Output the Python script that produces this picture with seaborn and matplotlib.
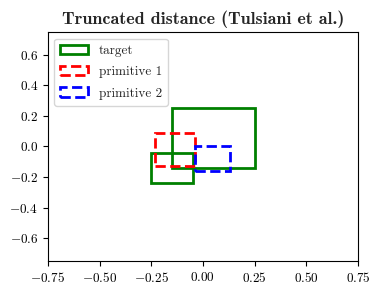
import matplotlib
matplotlib.use("Agg")
import matplotlib.pyplot as plt
import matplotlib.patches as mpatches
import seaborn as sns

# Data: rectangles as (x0, y0, width, height)
labels = ["target", "primitive 1", "primitive 2"]
target_x0 = [-0.15, -0.25]
target_y0 = [-0.14, -0.24]
target_w = [0.40, 0.20]
target_h = [0.39, 0.20]
prim1 = [-0.23, -0.13, 0.19, 0.22]
prim2 = [-0.04, -0.16, 0.17, 0.16]
tick_vals = [-0.75, -0.5, -0.25, 0.0, 0.25, 0.5, 0.75]
ytick_vals = [-0.6, -0.4, -0.2, 0.0, 0.2, 0.4, 0.6]

sns.set_style("ticks")
plt.rcParams["font.family"] = ["cmr10"]
plt.rcParams["mathtext.fontset"] = "cm"
plt.rcParams["axes.formatter.use_mathtext"] = True
plt.rcParams["font.size"] = 10

fig, ax = plt.subplots(figsize=(3.8, 2.95), dpi=100)
fig.subplots_adjust(left=0.126, right=0.942, top=0.8915, bottom=0.1153)

handles = []
for i, (x0, y0, w, h) in enumerate(zip(target_x0, target_y0, target_w, target_h)):
    p = mpatches.Rectangle((x0, y0), w, h, fill=False, edgecolor="green", lw=2,
                           label=labels[0] if i == 0 else None)
    ax.add_patch(p)
    if i == 0:
        handles.append(p)
p1 = mpatches.Rectangle((prim1[0], prim1[1]), prim1[2], prim1[3], fill=False,
                        edgecolor="red", lw=2, ls="--", label=labels[1])
p2 = mpatches.Rectangle((prim2[0], prim2[1]), prim2[2], prim2[3], fill=False,
                        edgecolor="blue", lw=2, ls="--", label=labels[2])
ax.add_patch(p1)
ax.add_patch(p2)
handles += [p1, p2]

ax.set_xlim(-0.75, 0.75)
ax.set_ylim(-0.75, 0.75)
ax.set_xticks(tick_vals)
ax.set_yticks(ytick_vals)
for s in ax.spines.values():
    s.set_visible(True)
    s.set_color("black")
ax.tick_params(colors="black", labelsize=9.5)
ax.legend(handles=handles, loc="upper left", fontsize=9.5, labelspacing=0.7,
          borderpad=0.45, handlelength=2.1)
ax.set_title("Truncated distance (Tulsiani et al.)", fontfamily="cmb10", fontsize=13)

fig.savefig("out.png", dpi=100)
